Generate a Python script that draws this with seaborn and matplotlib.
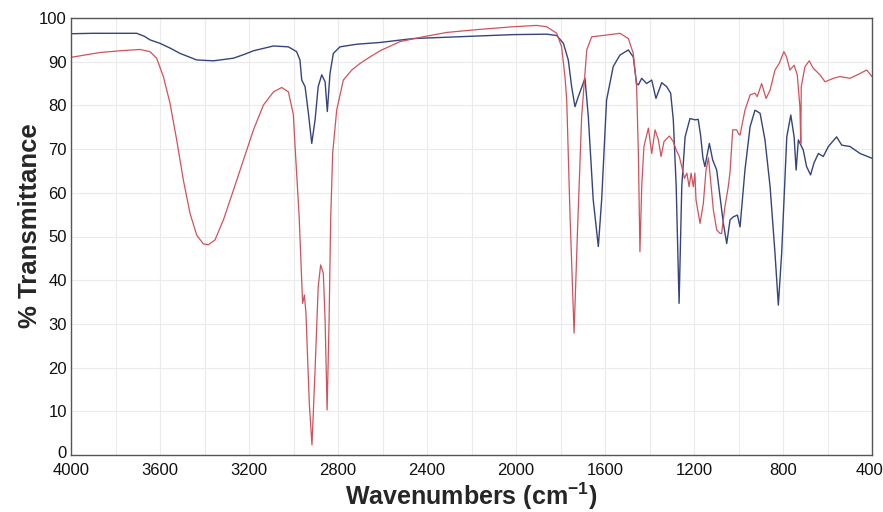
import numpy as np
import pandas as pd
import matplotlib
matplotlib.use("Agg")
import matplotlib.pyplot as plt
import matplotlib.transforms as mtransforms
import seaborn as sns

# ---- data ----
blue_wn = [4000, 3900, 3800, 3705, 3670, 3645, 3600, 3550, 3510, 3435, 3360, 3270, 3220, 3180,
           3090, 3023, 2986, 2971, 2963, 2948, 2933, 2918, 2903, 2889, 2873, 2858, 2848, 2836,
           2821, 2791, 2716, 2611, 2462, 2311, 2162, 2012, 1862, 1817, 1787, 1765, 1750, 1735,
           1720, 1690, 1675, 1653, 1630, 1615, 1593, 1563, 1533, 1495, 1473, 1458, 1450, 1435,
           1413, 1390, 1371, 1345, 1323, 1305, 1293, 1280, 1267, 1255, 1240, 1218, 1196, 1181,
           1170, 1160, 1151, 1131, 1116, 1098, 1083, 1068, 1053, 1038, 1023, 1005, 993, 971,
           948, 926, 903, 881, 858, 836, 821, 806, 783, 765, 750, 741, 731, 709, 694, 676, 661,
           641, 619, 596, 559, 536, 499, 454, 400]
blue_t = [96.4, 96.5, 96.5, 96.5, 95.8, 95.0, 94.2, 93.0, 91.9, 90.4, 90.2, 90.8, 91.7, 92.5,
          93.6, 93.4, 92.3, 90.4, 85.8, 84.3, 78.2, 71.3, 76.7, 84.3, 87.0, 85.4, 78.6, 87.3,
          91.9, 93.4, 94.0, 94.4, 95.3, 95.6, 95.9, 96.2, 96.3, 96.0, 94.2, 90.4, 84.3, 79.7,
          82.0, 86.2, 77.4, 58.4, 47.7, 58.4, 81.2, 88.9, 91.5, 92.7, 91.1, 85.0, 84.7, 86.2,
          85.0, 85.8, 81.6, 85.2, 84.3, 82.8, 76.7, 61.4, 34.7, 61.4, 72.8, 77.0, 76.7, 76.8,
          73.0, 68.0, 66.0, 71.3, 67.5, 65.2, 59.1, 53.0, 48.4, 53.8, 54.5, 54.9, 52.2, 65.2,
          75.1, 78.9, 78.2, 72.1, 61.4, 46.2, 34.3, 46.2, 72.8, 77.8, 72.8, 65.2, 72.1, 69.8,
          66.0, 64.1, 66.8, 69.0, 68.3, 70.6, 72.8, 70.9, 70.6, 69.0, 67.9]

red_wn = [4000, 3870, 3780, 3690, 3645, 3615, 3585, 3555, 3525, 3495, 3465, 3435, 3405, 3383,
          3353, 3315, 3270, 3225, 3180, 3135, 3090, 3053, 3023, 3001, 2990, 2975, 2959, 2951,
          2944, 2929, 2917, 2903, 2889, 2878, 2866, 2858, 2849, 2840, 2833, 2824, 2806, 2776,
          2738, 2701, 2656, 2611, 2521, 2417, 2311, 2162, 2012, 1907, 1862, 1817, 1795, 1780,
          1772, 1757, 1739, 1724, 1705, 1682, 1660, 1593, 1533, 1495, 1473, 1458, 1450, 1443,
          1435, 1425, 1405, 1390, 1375, 1360, 1348, 1335, 1311, 1293, 1280, 1266, 1255, 1248,
          1243, 1232, 1222, 1213, 1203, 1196, 1191, 1173, 1158, 1146, 1135, 1113, 1098, 1083,
          1076, 1061, 1046, 1038, 1026, 1008, 1000, 993, 971, 948, 926, 916, 896, 876, 858,
          836, 817, 796, 784, 769, 750, 736, 724, 720, 718, 701, 682, 664, 634, 611, 574, 544,
          499, 454, 424, 400]
red_t = [91.0, 92.1, 92.5, 92.8, 92.3, 90.8, 86.6, 80.5, 72.1, 62.9, 55.3, 50.3, 48.3, 48.1,
         49.2, 53.8, 60.6, 67.5, 74.4, 80.1, 83.1, 84.1, 83.1, 78.0, 68.0, 55.0, 34.7, 36.6,
         32.4, 11.8, 2.3, 19.5, 38.5, 43.5, 41.6, 30.9, 10.3, 30.9, 53.8, 69.0, 78.9, 85.8,
         88.1, 89.6, 91.1, 92.5, 94.6, 95.7, 96.7, 97.4, 98.0, 98.3, 98.0, 96.5, 93.4, 86.6,
         81.2, 54.5, 27.9, 50.7, 77.4, 92.7, 95.7, 96.1, 96.5, 95.3, 91.9, 84.3, 69.0, 46.5,
         61.4, 70.6, 74.8, 69.0, 74.4, 72.1, 68.3, 71.7, 73.0, 71.7, 69.8, 68.3, 66.0, 64.5,
         63.3, 64.5, 61.4, 64.5, 61.4, 64.5, 58.4, 53.0, 57.6, 65.2, 68.0, 56.1, 51.5, 50.7,
         50.7, 56.8, 61.4, 64.8, 74.4, 74.4, 73.5, 73.2, 78.9, 82.4, 82.8, 82.0, 85.0, 81.6,
         83.5, 88.1, 89.6, 92.3, 91.1, 88.1, 89.2, 87.0, 79.7, 71.3, 84.3, 88.9, 90.2, 88.5,
         87.0, 85.4, 86.2, 86.6, 86.2, 87.3, 88.1, 86.6]

x_ticks = [4000, 3600, 3200, 2800, 2400, 2000, 1600, 1200, 800, 400]
y_ticks = [0, 10, 20, 30, 40, 50, 60, 70, 80, 90, 100]

blue_df = pd.DataFrame({"wn": blue_wn, "T": blue_t})
red_df = pd.DataFrame({"wn": red_wn, "T": red_t})

sns.set_theme(style="white")
plt.rcParams["font.family"] = ["Liberation Sans", "DejaVu Sans"]
plt.rcParams["mathtext.fontset"] = "custom"
plt.rcParams["mathtext.rm"] = "Liberation Sans"
plt.rcParams["mathtext.bf"] = "Liberation Sans:bold"

fig = plt.figure(figsize=(8.83, 5.12), dpi=100)
ax = fig.add_axes([71 / 883, 57 / 512, 801 / 883, 437 / 512])

sns.lineplot(data=blue_df, x="wn", y="T", ax=ax, color="#35457c", linewidth=1.0,
             sort=False, estimator=None)
sns.lineplot(data=red_df, x="wn", y="T", ax=ax, color="#d0525c", linewidth=0.9,
             sort=False, estimator=None)

ax.set_xlim(4000, 400)
ax.set_ylim(0, 100)
ax.set_xticks(x_ticks)
ax.set_xticks(np.arange(400, 4001, 200), minor=True)
ax.set_yticks(y_ticks)
ax.grid(True, which="both", color="#ebebeb", linewidth=0.8)
ax.set_axisbelow(True)
ax.tick_params(axis="both", which="both", length=0, colors="#111111", labelsize=12)
ax.tick_params(axis="x", pad=6)
ax.tick_params(axis="y", pad=3)
for s in ax.spines.values():
    s.set_visible(True)
    s.set_color("#555555")
    s.set_linewidth(1.0)

# small nudges so the corner labels do not collide / get clipped
ylabels = ax.get_yticklabels()
ylabels[0].set_transform(ylabels[0].get_transform() +
                         mtransforms.ScaledTranslation(0, 3 / 100, fig.dpi_scale_trans))
xlabels = ax.get_xticklabels()
xlabels[-1].set_transform(xlabels[-1].get_transform() +
                          mtransforms.ScaledTranslation(-3 / 100, 0, fig.dpi_scale_trans))

ax.set_xlabel(r"Wavenumbers (cm$^{\mathbf{-1}}$)", fontsize=18, fontweight="bold",
              va="center")
ax.xaxis.set_label_coords(0.5, -0.095)
ax.set_ylabel("% Transmittance", fontsize=18.5, fontweight="bold", va="center")
ax.yaxis.set_label_coords(-0.051, 0.525)

fig.savefig("out.png", dpi=100)
